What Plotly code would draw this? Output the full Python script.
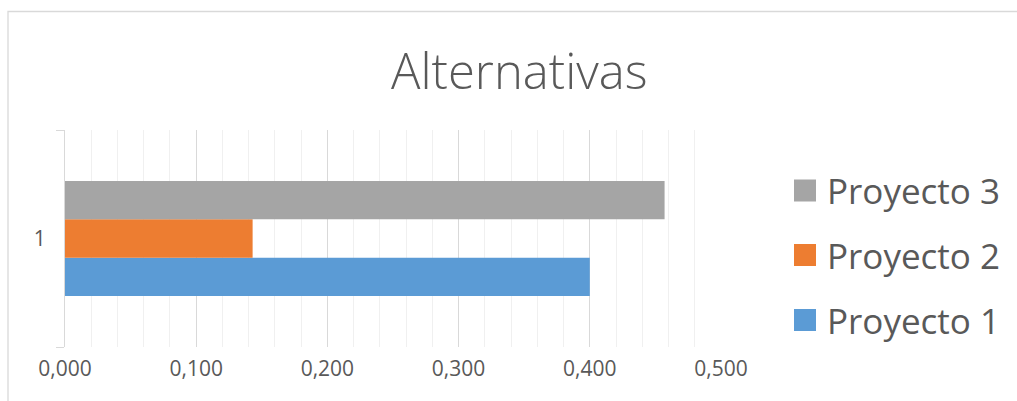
import plotly.graph_objects as go

categories = ["1"]
series_names = ["Proyecto 1", "Proyecto 2", "Proyecto 3"]
proyecto_1 = [0.400]
proyecto_2 = [0.143]
proyecto_3 = [0.457]
series_values = [proyecto_1, proyecto_2, proyecto_3]
series_colors = ["#5B9BD5", "#ED7D31", "#A5A5A5"]
x_ticks = [0.0, 0.1, 0.2, 0.3, 0.4, 0.5]

W, H = 1017, 401
L, R, T, B = 65, 296, 130, 54
PW, PH = W - L - R, H - T - B


def px(x):
    return (x - L) / PW


def py(y):
    return (H - B - y) / PH


TEXT = "#595959"
FONT = "Open Sans"

fig = go.Figure()
for name, vals, col in zip(series_names, series_values, series_colors):
    fig.add_trace(go.Bar(y=categories, x=vals, name=name, orientation="h",
                         marker=dict(color=col, line=dict(width=0)),
                         showlegend=False))

shapes = [
    dict(type="rect", xref="paper", yref="paper",
         x0=px(8), x1=px(1040), y0=py(430), y1=py(11.5),
         line=dict(color="#d9d9d9", width=1.3), fillcolor="rgba(0,0,0,0)",
         layer="below"),
]
annotations = [
    dict(text="Alternativas", xref="paper", yref="paper", x=px(519), y=py(70),
         xanchor="center", yanchor="middle", showarrow=False,
         font=dict(family=FONT, size=49, color=TEXT, weight=300)),
]

# manual legend (Proyecto 3 on top)
legend_centers = [320, 255, 190.5]
for name, col, cy in zip(series_names, series_colors, legend_centers):
    shapes.append(dict(type="rect", xref="paper", yref="paper",
                       x0=px(794), x1=px(816), y0=py(cy + 11), y1=py(cy - 11),
                       fillcolor=col, line=dict(width=0)))
    annotations.append(dict(text=name, xref="paper", yref="paper",
                            x=px(825), y=py(cy), xanchor="left", yanchor="middle",
                            showarrow=False,
                            font=dict(family=FONT, size=35, color=TEXT)))

fig.update_layout(
    width=W, height=H,
    margin=dict(l=L, r=R, t=T, b=B, pad=0),
    paper_bgcolor="white", plot_bgcolor="white",
    barmode="group", bargap=0.47, bargroupgap=0,
    separators=",.",
    showlegend=False,
    shapes=shapes, annotations=annotations,
    font=dict(family=FONT, color=TEXT),
    xaxis=dict(range=[0, 0.5], tickvals=x_ticks, tickformat=".3f",
               showgrid=True, gridcolor="#d9d9d9", gridwidth=1,
               minor=dict(dtick=0.02, showgrid=True, gridcolor="#f0f0f0", gridwidth=1),
               zeroline=False, showline=False, ticks="",
               tickfont=dict(family=FONT, size=21, color=TEXT),
               ticklabelstandoff=7, fixedrange=True),
    yaxis=dict(type="category", range=[-0.5, 0.5], tickson="boundaries",
               ticks="outside", ticklen=8, tickcolor="#d9d9d9", tickwidth=1,
               showline=True, linecolor="#d9d9d9", linewidth=1,
               showgrid=False, zeroline=False,
               tickfont=dict(family=FONT, size=21, color=TEXT),
               ticklabelstandoff=14, fixedrange=True),
)

fig.write_html("out.html")
